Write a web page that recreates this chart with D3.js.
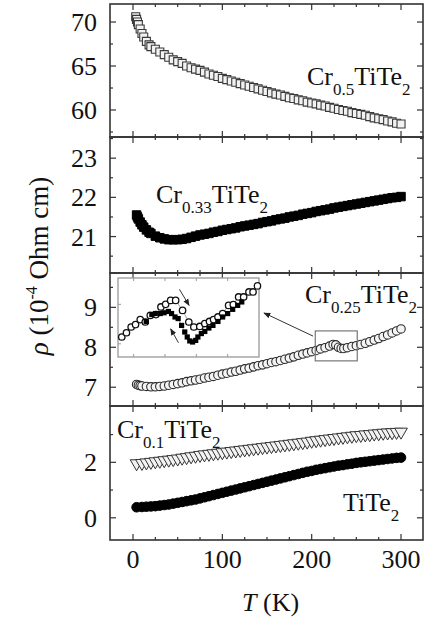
<!DOCTYPE html>
<html><head><meta charset="utf-8">
<script src="https://cdn.jsdelivr.net/npm/d3@7"></script>
<style>
body{margin:0;background:#fff}
text{font-family:"Liberation Serif","Times New Roman",serif;fill:#111}
</style>
</head><body>
<svg id="c" width="427" height="617"></svg>
<script>
// ---------------- DATA ----------------
const xMajorTicks = [0, 100, 200, 300];
const xMinorTicks = [-25, 25, 50, 75, 125, 150, 175, 225, 250, 275, 325];

const cr05T = [3,4,5,6,8,10,12,15,18,20,25,30,35,40,45,50,55,60,65,70,75,80,85,90,95,100,105,110,115,120,125,130,135,140,145,150,155,160,165,170,175,180,185,190,195,200,205,210,215,220,225,230,235,240,245,250,255,260,265,270,275,280,285,290,295,300];
const cr05Rho = [70.6,70.3,70.0,69.7,69.2,68.7,68.3,67.8,67.4,67.2,66.9,66.6,66.3,66.0,65.7,65.5,65.3,65.0,64.8,64.65,64.5,64.3,64.1,63.95,63.8,63.6,63.45,63.3,63.15,63.0,62.85,62.7,62.55,62.4,62.25,62.1,61.95,61.8,61.7,61.55,61.4,61.3,61.15,61.05,60.9,60.8,60.7,60.55,60.45,60.3,60.2,60.05,59.95,59.85,59.7,59.6,59.5,59.4,59.25,59.1,59.0,58.9,58.75,58.65,58.5,58.4];

const cr033T = [4,5,6,8,10,12,15,18,20,25,30,35,40,45,50,55,60,65,70,75,80,85,90,95,100,105,110,115,120,125,130,135,140,145,150,155,160,165,170,175,180,185,190,195,200,205,210,215,220,225,230,235,240,245,250,255,260,265,270,275,280,285,290,295,300];
const cr033Rho = [21.55,21.5,21.45,21.37,21.3,21.24,21.17,21.11,21.08,21.01,20.97,20.94,20.92,20.92,20.92,20.93,20.95,20.98,21.01,21.04,21.06,21.08,21.11,21.13,21.16,21.18,21.2,21.22,21.25,21.27,21.29,21.31,21.33,21.36,21.38,21.4,21.43,21.45,21.47,21.5,21.52,21.54,21.57,21.59,21.61,21.64,21.66,21.68,21.7,21.73,21.75,21.77,21.79,21.81,21.83,21.85,21.87,21.89,21.91,21.93,21.95,21.97,21.99,22.0,22.02];

const cr025T = [4,6,8,10,15,20,25,30,35,40,45,50,55,60,65,70,75,80,85,90,95,100,105,110,115,120,125,130,135,140,145,150,155,160,165,170,175,180,185,190,195,200,205,210,215,220,224,227,230,233,236,240,245,250,255,260,265,270,275,280,285,290,295,300];
const cr025Rho = [7.07,7.05,7.04,7.03,7.02,7.01,7.01,7.02,7.03,7.05,7.07,7.09,7.11,7.14,7.16,7.18,7.2,7.23,7.25,7.27,7.3,7.33,7.35,7.38,7.4,7.43,7.46,7.48,7.51,7.54,7.56,7.59,7.62,7.64,7.67,7.7,7.73,7.76,7.8,7.83,7.86,7.89,7.92,7.96,7.99,8.03,8.07,8.06,8.0,7.97,7.97,7.99,8.02,8.04,8.07,8.1,8.14,8.18,8.22,8.27,8.31,8.36,8.41,8.46];

const lowT = [4,10,15,20,25,30,35,40,45,50,55,60,65,70,75,80,85,90,95,100,105,110,115,120,125,130,135,140,145,150,155,160,165,170,175,180,185,190,195,200,205,210,215,220,225,230,235,240,245,250,255,260,265,270,275,280,285,290,295,300];
const cr01Rho = [1.96,1.97,1.99,2.01,2.03,2.05,2.07,2.09,2.11,2.13,2.16,2.18,2.21,2.23,2.26,2.28,2.3,2.32,2.34,2.36,2.38,2.4,2.42,2.44,2.46,2.48,2.5,2.52,2.54,2.56,2.58,2.6,2.62,2.64,2.66,2.68,2.7,2.72,2.74,2.77,2.79,2.81,2.83,2.85,2.87,2.89,2.91,2.93,2.95,2.97,2.98,3.0,3.01,3.03,3.04,3.06,3.07,3.08,3.09,3.1];
const tite2Rho = [0.38,0.39,0.4,0.41,0.42,0.44,0.46,0.48,0.51,0.54,0.57,0.6,0.63,0.66,0.7,0.74,0.78,0.82,0.86,0.9,0.94,0.98,1.02,1.06,1.1,1.14,1.18,1.22,1.26,1.3,1.34,1.38,1.42,1.46,1.5,1.54,1.58,1.62,1.66,1.69,1.73,1.76,1.79,1.82,1.85,1.88,1.9,1.93,1.95,1.98,2.0,2.02,2.04,2.06,2.08,2.1,2.12,2.14,2.16,2.17];

// inset (zoom of Cr0.25TiTe2 anomaly)
const insetOpenT = [206.2,207.7,209.2,210.6,212.1,213.7,215.3,217.1,218.7,220.2,221.8,223.4,225.6,227.6,229.2,231.1,232.7,234.2,235.5,236.9,238.4,240.3,241.8,243.5,245.1,246.8,248.1,249.5];
const insetOpenRho = [7.926,7.942,7.964,7.973,7.992,7.983,8.008,8.011,8.040,8.050,8.065,8.065,8.027,7.983,7.964,7.966,7.977,7.985,7.992,8.002,8.015,8.046,8.049,8.078,8.078,8.097,8.097,8.120];
const insetFillT = [214.0,215.8,216.9,218.5,219.7,221.1,222.1,223.2,224.2,225.3,226.3,227.1,227.9,228.8,229.8,230.5,231.6,232.7,234.0,235.3,236.9,238.4,240.0,241.6,243.2,244.5];
const insetFillRho = [7.985,8.011,8.015,8.015,8.018,8.023,8.015,8.002,7.996,7.970,7.945,7.926,7.911,7.907,7.913,7.926,7.939,7.947,7.960,7.970,7.985,8.002,8.015,8.031,8.046,8.059];

// ---------------- LAYOUT ----------------
const svg = d3.select('#c');
const X0 = 110, X1 = 423;
const x = d3.scaleLinear().domain([-25.75, 324.6]).range([X0, X1]);
const FS = 26;

const panels = [
  {top:4,   bottom:137, domain:[56.93,72.05], major:[60,65,70], minor:[57.5,62.5,67.5]},
  {top:137, bottom:273, domain:[20.07,23.54], major:[21,22,23], minor:[20.5,21.5,22.5,23.5]},
  {top:273, bottom:406, domain:[6.53,9.86],  major:[7,8,9],   minor:[7.5,8.5,9.5]},
  {top:406, bottom:540, domain:[-0.8,4.03],  major:[0,2],     minor:[1,3]}
];
panels.forEach(p => p.y = d3.scaleLinear().domain(p.domain).range([p.bottom, p.top]));

const axisColor = '#333';
const g = svg.append('g');

panels.forEach((p, i) => {
  // y ticks left & right
  const yt = [...p.major.map(v=>[v,6]), ...p.minor.map(v=>[v,3])];
  yt.forEach(([v,len]) => {
    const yy = p.y(v);
    g.append('line').attr('x1',X0).attr('x2',X0+len).attr('y1',yy).attr('y2',yy).attr('stroke',axisColor).attr('stroke-width',1.2);
    g.append('line').attr('x1',X1).attr('x2',X1-len).attr('y1',yy).attr('y2',yy).attr('stroke',axisColor).attr('stroke-width',1.2);
  });
  p.major.forEach(v => {
    g.append('text').attr('x',X0-13).attr('y',p.y(v)).attr('dy','0.35em')
      .attr('text-anchor','end').attr('font-size',FS).text(v);
  });
  // x ticks top & bottom
  const xt = [...xMajorTicks.map(v=>[v,6]), ...xMinorTicks.filter(v=>x(v)>X0+1 && x(v)<X1-1).map(v=>[v,3])];
  xt.forEach(([v,len]) => {
    const xx = x(v);
    g.append('line').attr('x1',xx).attr('x2',xx).attr('y1',p.top).attr('y2',p.top+len).attr('stroke',axisColor).attr('stroke-width',1.2);
    g.append('line').attr('x1',xx).attr('x2',xx).attr('y1',p.bottom).attr('y2',p.bottom-len).attr('stroke',axisColor).attr('stroke-width',1.2);
  });
  g.append('rect').attr('x',X0).attr('y',p.top).attr('width',X1-X0).attr('height',p.bottom-p.top)
    .attr('fill','none').attr('stroke',axisColor).attr('stroke-width',1.6);
});

// x tick labels
xMajorTicks.forEach(v => {
  g.append('text').attr('x',x(v)).attr('y',568).attr('text-anchor','middle').attr('font-size',FS).text(v);
});

// axis titles
const xl = svg.append('text').attr('x',242).attr('y',611).attr('font-size',FS);
xl.append('tspan').attr('font-style','italic').text('T');
xl.append('tspan').text(' (K)');

const yl = svg.append('text').attr('transform','translate(48,266) rotate(-90)').attr('text-anchor','middle').attr('font-size',27);
yl.append('tspan').attr('font-style','italic').text('ρ');
yl.append('tspan').text(' (10');
yl.append('tspan').attr('font-size',16).attr('dy',-11).text('-4');
yl.append('tspan').attr('dy',11).text(' Ohm cm)');

// ---------------- SERIES ----------------
function drawSeries(p, T, R, type, size, fill, stroke, sw, rot) {
  const sym = d3.symbol().type(type).size(size);
  svg.append('g').selectAll('path').data(T.map((t,i)=>[t,R[i]])).join('path')
    .attr('d', sym)
    .attr('transform', d => `translate(${x(d[0])},${p.y(d[1])})` + (rot ? ` rotate(${rot})` : ''))
    .attr('fill', fill).attr('stroke', stroke).attr('stroke-width', sw);
}
drawSeries(panels[0], cr05T, cr05Rho, d3.symbolSquare, 64, '#f2f2f2', '#3a3a3a', 1.1);
drawSeries(panels[1], cr033T, cr033Rho, d3.symbolSquare, 72, '#000', '#000', 1);
drawSeries(panels[2], cr025T, cr025Rho, d3.symbolCircle, 56, '#f4f4f4', '#2a2a2a', 1.1);
drawSeries(panels[3], lowT, cr01Rho, d3.symbolTriangle, 70, '#f2f2f2', '#333', 1, 180);
drawSeries(panels[3], lowT, tite2Rho, d3.symbolCircle, 72, '#000', '#000', 1);

// ---------------- LABELS ----------------
function compLabel(xp, yp, sub) {
  const t = svg.append('text').attr('x',xp).attr('y',yp).attr('font-size',FS);
  if (sub !== null) {
    t.append('tspan').text('Cr');
    t.append('tspan').attr('font-size',17).attr('dy',10).text(sub);
    t.append('tspan').attr('dy',-10).text('TiTe');
  } else {
    t.append('tspan').text('TiTe');
  }
  t.append('tspan').attr('font-size',17).attr('dy',10).text('2');
}
compLabel(307, 85, '0.5');
compLabel(156, 203, '0.33');
compLabel(305, 303, '0.25');
compLabel(117, 438, '0.1');
compLabel(343, 511, null);

// ---------------- INSET / ANNOTATION ----------------
const p3 = panels[2];
svg.append('defs').append('marker').attr('id','ah').attr('viewBox','0 0 10 10').attr('refX',9).attr('refY',5)
  .attr('markerWidth',7).attr('markerHeight',7).attr('orient','auto')
  .append('path').attr('d','M0,1 L10,5 L0,9 z').attr('fill','#222');

// zoom box in main panel
svg.append('rect').attr('x',x(204)).attr('y',p3.y(8.41)).attr('width',x(251)-x(204)).attr('height',p3.y(7.66)-p3.y(8.41))
  .attr('fill','none').attr('stroke','#777').attr('stroke-width',1.2);
svg.append('line').attr('x1',x(201.5)).attr('y1',p3.y(8.28)).attr('x2',x(146.6)).attr('y2',p3.y(8.86))
  .attr('stroke','#333').attr('stroke-width',1).attr('marker-end','url(#ah)');

const ix = d3.scaleLinear().domain([205,250]).range([118,259]);
const iy = d3.scaleLinear().domain([7.85,8.15]).range([357,278]);
svg.append('rect').attr('x',118).attr('y',278).attr('width',141).attr('height',79)
  .attr('fill','#fff').attr('stroke','#999').attr('stroke-width',1.3);
[210,220,230,240].forEach(v=>{
  svg.append('line').attr('x1',ix(v)).attr('x2',ix(v)).attr('y1',278).attr('y2',281).attr('stroke','#999');
  svg.append('line').attr('x1',ix(v)).attr('x2',ix(v)).attr('y1',357).attr('y2',354).attr('stroke','#999');
});
[7.9,8.05].forEach(v=>{
  svg.append('line').attr('x1',118).attr('x2',121).attr('y1',iy(v)).attr('y2',iy(v)).attr('stroke','#999');
});
const line = d3.line().x(d=>ix(d[0])).y(d=>iy(d[1]));
const openPts = insetOpenT.map((t,i)=>[t,insetOpenRho[i]]);
const fillPts = insetFillT.map((t,i)=>[t,insetFillRho[i]]);
svg.append('path').attr('d',line(openPts)).attr('fill','none').attr('stroke','#666').attr('stroke-width',0.6);
svg.append('path').attr('d',line(fillPts)).attr('fill','none').attr('stroke','#666').attr('stroke-width',0.6);
svg.append('g').selectAll('circle').data(openPts).join('circle')
  .attr('cx',d=>ix(d[0])).attr('cy',d=>iy(d[1])).attr('r',3.2)
  .attr('fill','#fff').attr('stroke','#111').attr('stroke-width',1.3);
svg.append('g').selectAll('rect').data(fillPts).join('rect')
  .attr('x',d=>ix(d[0])-2.6).attr('y',d=>iy(d[1])-2.6).attr('width',5.2).attr('height',5.2)
  .attr('fill','#000');
svg.append('line').attr('x1',ix(224.6)).attr('y1',iy(8.107)).attr('x2',ix(227.7)).attr('y2',iy(8.046))
  .attr('stroke','#333').attr('stroke-width',1).attr('marker-end','url(#ah)');
svg.append('line').attr('x1',ix(224.3)).attr('y1',iy(7.904)).attr('x2',ix(221.8)).attr('y2',iy(7.957))
  .attr('stroke','#333').attr('stroke-width',1).attr('marker-end','url(#ah)');
</script>
</body></html>
